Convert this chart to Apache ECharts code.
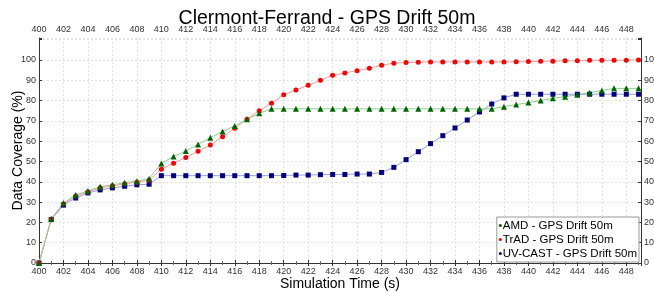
<!DOCTYPE html>
<html>
<head>
<meta charset="utf-8">
<script src="https://cdn.jsdelivr.net/npm/echarts@6/dist/echarts.min.js"></script>
<style>
  html, body { margin: 0; padding: 0; background: #fff; }
  #chart { width: 654px; height: 292px; }
</style>
</head>
<body>
<div id="chart"></div>
<script>
  // simulation time (s)
  const times = [400, 401, 402, 403, 404, 405, 406, 407, 408, 409,
    410, 411, 412, 413, 414, 415, 416, 417, 418, 419,
    420, 421, 422, 423, 424, 425, 426, 427, 428, 429,
    430, 431, 432, 433, 434, 435, 436, 437, 438, 439,
    440, 441, 442, 443, 444, 445, 446, 447, 448, 449]

  const amd = [0, 21.8, 29.5, 33.5, 35.5, 37.5, 38.5, 39.5, 40.3, 41.5,
    49, 52.4, 55.2, 58.4, 61.7, 64.7, 67.5, 70.8, 73.7, 75.9,
    75.9, 75.9, 75.9, 75.9, 75.9, 75.9, 75.9, 75.9, 75.9, 75.9,
    75.9, 75.9, 75.9, 75.9, 75.9, 75.9, 75.9, 75.9, 77, 78,
    79, 80, 81.1, 81.9, 82.9, 83.9, 85, 86, 86, 86]

  const trad = [0, 21.6, 29, 33, 35, 37, 38, 39, 39.8, 40.8,
    46.2, 49.1, 52, 55, 58.1, 62.2, 66.3, 70.8, 75, 78.7,
    82.8, 85.2, 87.5, 90, 92.4, 93.6, 94.7, 95.9, 97.4, 98.4,
    98.7, 98.9, 99, 99, 99, 99, 99, 99, 99, 99.1,
    99.2, 99.3, 99.4, 99.6, 99.6, 99.8, 99.8, 99.8, 99.9, 100]

  const uvcast = [0, 21.4, 28.5, 32, 34.5, 36, 37, 37.8, 38.5, 38.8,
    43, 43, 43, 43, 43, 43, 43, 43, 43, 43,
    43.1, 43.3, 43.3, 43.5, 43.6, 43.6, 43.8, 43.8, 44.6, 47.1,
    50.9, 54.8, 58.8, 62.7, 66.5, 70.4, 74.4, 78.3, 81.3, 83.1,
    83.1, 83.1, 83.1, 83.1, 83.1, 83.1, 83.1, 83.1, 83.1, 83.1]

  const font = 'Liberation Sans, Arial, sans-serif'
  const pairs = (ys) => times.map((t, i) => [t, ys[i]])

  const xLabel = (v) => (v % 2 === 0 && v < 449) ? String(v) : ''
  const yLabel = (v) => (v <= 100) ? String(v) : ''

  const gridLine = { show: true, lineStyle: { color: '#e2e2e2', type: [2, 2], width: 1 } }

  const baseX = {
    type: 'value',
    min: 400,
    max: 449.2,
    interval: 2,
    axisLine: { show: true, lineStyle: { color: '#333', width: 1 } },
    axisTick: { show: true, inside: true, length: 3, lineStyle: { color: '#333' } },
    minorTick: { show: true, splitNumber: 2, length: 2, lineStyle: { color: '#666' } },
    axisLabel: { fontSize: 9, color: '#333', fontFamily: font, margin: 4, formatter: xLabel },
    splitLine: { show: false }
  }
  const baseY = {
    type: 'value',
    min: 0,
    max: 110.8,
    interval: 10,
    axisLine: { show: true, lineStyle: { color: '#333', width: 1 } },
    axisTick: { show: true, inside: true, length: 3, lineStyle: { color: '#333' } },
    axisLabel: { fontSize: 9, color: '#333', fontFamily: font, margin: 3, formatter: yLabel },
    splitLine: { show: false }
  }

  const chart = echarts.init(document.getElementById('chart'), null, { renderer: 'canvas' })

  function makeSeries(name, ys, color, lineColor, symbol, size) {
    return {
      name: name,
      type: 'line',
      data: pairs(ys),
      symbol: symbol,
      symbolSize: size,
      showSymbol: true,
      itemStyle: { color: color },
      lineStyle: { color: lineColor, width: 1 },
      emphasis: { disabled: true },
      animation: false,
      z: 3
    }
  }

  chart.setOption({
    backgroundColor: '#fff',
    animation: false,
    title: {
      text: 'Clermont-Ferrand - GPS Drift 50m',
      left: 'center',
      top: 4,
      textStyle: { fontSize: 19.5, fontWeight: 'normal', color: '#000', fontFamily: font }
    },
    grid: { left: 39, right: 13, top: 38, bottom: 29, outerBoundsMode: 'none', containLabel: false },
    legend: {
      orient: 'vertical',
      right: 15,
      bottom: 30,
      data: ['AMD - GPS Drift 50m', 'TrAD - GPS Drift 50m', 'UV-CAST - GPS Drift 50m'],
      icon: 'circle',
      itemWidth: 3,
      itemHeight: 3,
      itemGap: 1,
      padding: [2, 2, 2, 2],
      backgroundColor: '#fff',
      borderColor: '#999',
      borderWidth: 1,
      textStyle: { fontSize: 11.5, lineHeight: 13, color: '#000', fontFamily: font, padding: [0, 0, 0, -4] }
    },
    xAxis: [
      Object.assign({}, baseX, {
        position: 'bottom',
        name: 'Simulation Time (s)',
        nameLocation: 'middle',
        nameGap: 14,
        nameMoveOverlap: false,
        nameTextStyle: { fontSize: 14, color: '#000', fontFamily: font, verticalAlign: 'top' },
        splitLine: gridLine
      }),
      Object.assign({}, baseX, { position: 'top' })
    ],
    yAxis: [
      Object.assign({}, baseY, {
        position: 'left',
        name: 'Data Coverage (%)',
        nameLocation: 'middle',
        nameGap: 14,
        nameMoveOverlap: false,
        nameTextStyle: { fontSize: 14, color: '#000', fontFamily: font },
        splitLine: gridLine
      }),
      Object.assign({}, baseY, { position: 'right' })
    ],
    series: [
      makeSeries('UV-CAST - GPS Drift 50m', uvcast, '#00007f', '#9a9ae6', 'rect', 5),
      makeSeries('TrAD - GPS Drift 50m', trad, '#ff0000', '#ff9a9a', 'circle', 5),
      makeSeries('AMD - GPS Drift 50m', amd, '#006400', '#8fcf8f', 'triangle', 6)
    ]
  })
</script>
</body>
</html>
